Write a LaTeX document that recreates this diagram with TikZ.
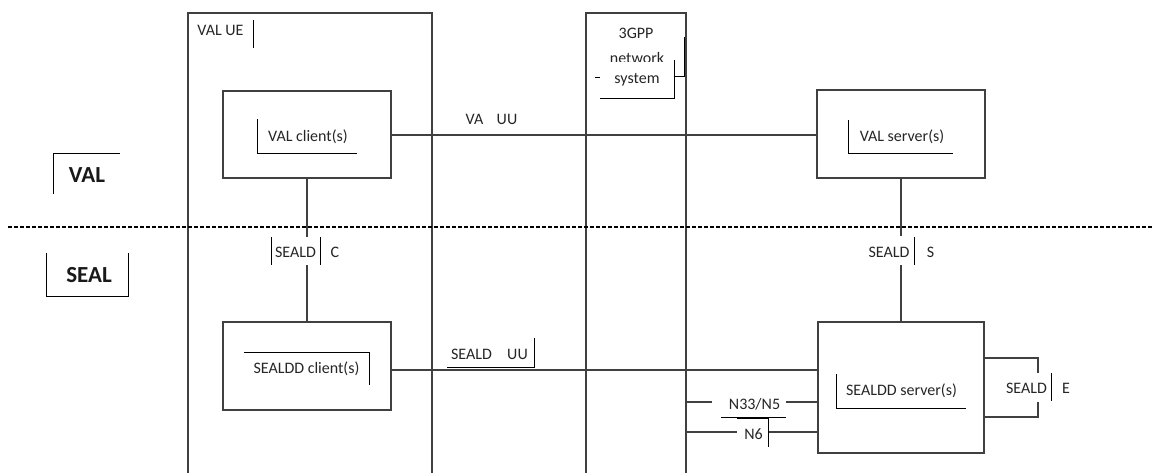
\documentclass[tikz,border=0pt]{standalone}
\usepackage{fontspec}
\setmainfont{Carlito}
\begin{document}
\begin{tikzpicture}[x=1pt,y=-1pt,
  box/.style={draw=black!75, line width=1.2pt, rectangle, inner sep=0pt, outer sep=0pt, anchor=north west},
  conn/.style={draw=black!75, line width=1.2pt},
  tb/.style={draw=black, line width=0.9pt},
  txt/.style={font=\fontsize{16}{19}\selectfont, text=black!85, inner sep=0pt, anchor=base},
  boldtxt/.style={font=\fontsize{23}{27}\selectfont\bfseries, text=black!90, inner sep=0pt, anchor=base},
  sepline/.style={draw=black, line width=1.3pt, dash pattern=on 4pt off 2pt}]
\useasboundingbox (0,0) rectangle (1153,472);
\clip (0,0) rectangle (1153,472);
\fill[white] (0,0) rectangle (1153,472);

% big containers (open at the bottom of the picture)
\node[box, minimum width=244pt, minimum height=480pt] (ue) at (188,13) {};
\node[box, minimum width=100pt, minimum height=480pt] (tgpp) at (586,13) {};

% functional boxes
\node[box, minimum width=168pt, minimum height=87pt] (vc) at (223,91) {};
\node[box, minimum width=168pt, minimum height=88pt] (vs) at (817,90) {};
\node[box, minimum width=168pt, minimum height=88pt] (sc) at (223,322) {};
\node[box, minimum width=166pt, minimum height=131pt] (ss) at (818,322) {};

% layer separator
\coordinate (sepL) at (8,227);
\coordinate (sepR) at (1153,227);
\draw[sepline] (sepL) -- (sepR);

% connectors
\draw[conn] (vc.east |- 0,135) -- (vs.west |- 0,135);
\draw[conn] (vc.south) -- (vc.south |- 0,237);
\draw[conn] (sc.north |- 0,265) -- (sc.north);
\draw[conn] (vs.south) -- (vs.south |- 0,236);
\draw[conn] (ss.north |- 0,265) -- (ss.north);
\draw[conn] (sc.east |- 0,370) -- (ss.west |- 0,370);
\coordinate (n33a) at (712,402);
\coordinate (n33b) at (786,402);
\draw[conn] (tgpp.east |- 0,402) -- (n33a);
\draw[conn] (n33b) -- (ss.west |- 0,402);
\coordinate (n6a) at (737,432);
\coordinate (n6b) at (768,432);
\draw[conn] (tgpp.east |- 0,432) -- (n6a);
\draw[conn] (n6b) -- (ss.west |- 0,432);
\coordinate (ea) at (1038,373);
\coordinate (eb) at (1038,402);
\draw[conn] (ss.east |- 0,358) -- (1038,358) -- (ea);
\draw[conn] (ss.east |- 0,417) -- (1038,417) -- (eb);

% text-box borders
\draw[tb] (253,20) -- (253,48);
\draw[tb] (684,37) -- (684,76) -- (674,76);
\draw[tb] (595,77.5) -- (600,77.5);
\draw[tb] (257,119) -- (257,153) -- (357,153);
\draw[tb] (848,120) -- (848,153) -- (953,153);
\draw[tb] (271,237) -- (271,265);
\draw[tb] (320,237) -- (320,265);
\draw[tb] (914,237) -- (914,265);
\draw[tb] (244,352) -- (369,352) -- (369,385);
\draw[tb] (447,367) -- (534,367) -- (534,338);
\draw[tb] (836,374) -- (836,408) -- (966,408);
\draw[tb] (721,417) -- (786,417);
\draw[tb, line width=1.8pt] (737,418) -- (768,418);
\draw[tb] (768,418) -- (768,447);
\draw[tb] (1051,373) -- (1051,401);
\draw[tb] (53,194) -- (53,153) -- (120,153);
\draw[tb] (46,253) -- (46,296) -- (128,296) -- (128,253);

% texts
\node[txt] (tue) at (220.5,35) {VAL UE};
\node[txt] (t3gpp) at (636,38) {3GPP};
\node[txt] (tnet) at (637,63) {network};
\fill[white] (600,61.5) rectangle (673.5,97.5);
\draw[tb] (674,60) -- (674,98) -- (600,98);
\node[txt] (tsys) at (637,83) {system};
\node[txt] (tva) at (474.5,124) {VA};
\node[txt] (tvauu) at (507,124) {UU};
\node[txt] (tvc) at (308,141) {VAL client(s)};
\node[txt] (tvs) at (902,141) {VAL server(s)};
\node[txt] (tsc1) at (295.5,257) {SEALD};
\node[txt] (tsc2) at (335,257) {C};
\node[txt] (tss1) at (889,257) {SEALD};
\node[txt] (tss2) at (930.5,257) {S};
\node[txt] (tsc) at (306.5,373) {SEALDD client(s)};
\node[txt] (tuu1) at (471.5,359) {SEALD};
\node[txt] (tuu2) at (517.5,359) {UU};
\node[txt] (tss) at (901.5,395) {SEALDD server(s)};
\node[txt] (tn33) at (754.5,409) {N33/N5};
\node[txt] (tn6) at (753.5,439) {N6};
\node[txt] (te1) at (1026.5,393) {SEALD};
\node[txt] (te2) at (1066,393) {E};
\node[boldtxt] (tval) at (87,182) {VAL};
\node[boldtxt] (tseal) at (89,282) {SEAL};
\end{tikzpicture}
\end{document}
